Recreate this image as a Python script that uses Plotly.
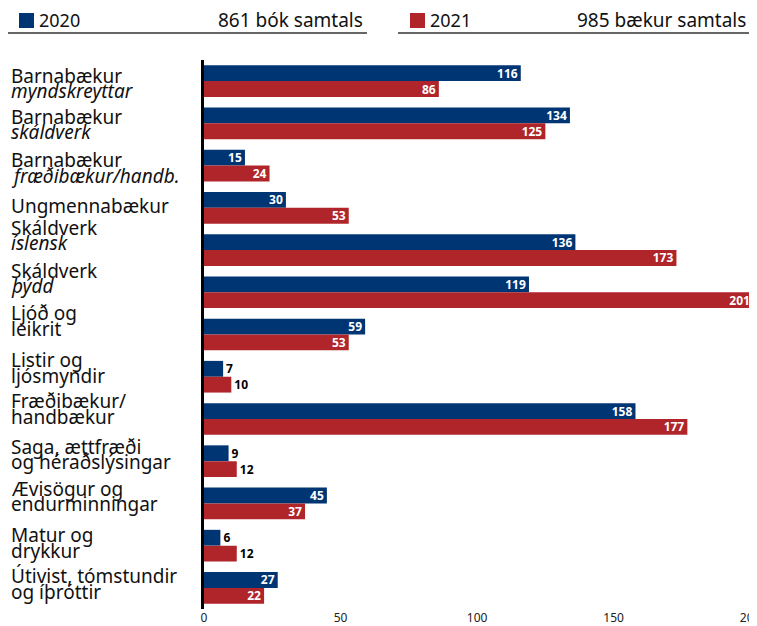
import plotly.graph_objects as go

cat_line1 = ["Barnabækur", "Barnabækur", "Barnabækur", "Ungmennabækur", "Skáldverk",
             "Skáldverk", "Ljóð og", "Listir og", "Fræðibækur/", "Saga, ættfræði",
             "Ævisögur og", "Matur og", "Útivist, tómstundir"]
cat_line2 = ["myndskreyttar", "skáldverk", "fræðibækur/handb.", "", "íslensk",
             "þýdd", "leikrit", "ljósmyndir", "handbækur", "og héraðslýsingar",
             "endurminningar", "drykkur", "og íþróttir"]
line2_italic = [True, True, True, False, True, True, False, False, False, False, False, False, False]
vals_2020 = [116, 134, 15, 30, 136, 119, 59, 7, 158, 9, 45, 6, 27]
vals_2021 = [86, 125, 24, 53, 173, 201, 53, 10, 177, 12, 37, 12, 22]
series_names = ["2020", "2021"]
totals_text = ["861 bók samtals", "985 bækur samtals"]
x_ticks = [0, 50, 100, 150, 200]

# layout: cap-top of each label's first line relative to its row centre (px)
label_top = [-13, -14, -13, -9, -30, -29, -29, -24, -25, -22, -22, -18, -19]

BLUE = "#003574"
RED = "#b0252a"
FONT = "Noto Sans"

OFF = 8                      # browser body margin
W, H = 757 - OFF, 626 - OFF
L, R, T, B = 204 - OFF, 0, 60 - OFF, 17
pw, ph = W - L - R, H - T - B


def px(x):                   # page pixel -> paper x
    return (x - OFF - L) / pw


def py(y):                   # page pixel -> paper y
    return (H - B - (y - OFF)) / ph


ids = list(range(len(cat_line1)))


def make_trace(vals, name, color):
    pos = ["inside" if v >= 15 else "outside" for v in vals]
    return go.Bar(
        y=ids, x=vals, name=name, orientation="h",
        marker=dict(color=color, line=dict(width=0)),
        text=[str(v) for v in vals], textposition=pos, textangle=0,
        insidetextanchor="end", constraintext="none",
        outsidetextfont=dict(family=FONT, size=12, color="black", weight="bold"),
        insidetextfont=dict(family=FONT, size=12, color="white", weight="bold"),
        cliponaxis=False, showlegend=False,
    )


fig = go.Figure()
fig.add_trace(make_trace(vals_2020, series_names[0], BLUE))
fig.add_trace(make_trace(vals_2021, series_names[1], RED))

LFS = 19
annotations = []
for i in ids:
    y1 = label_top[i] + 7.5          # centre of first line (px below row centre)
    annotations.append(dict(x=px(9), xref="paper", y=i, yref="y", yshift=-y1,
                            yanchor="middle", text=cat_line1[i], showarrow=False,
                            xanchor="left", align="left",
                            font=dict(family=FONT, size=LFS, color="#111")))
    if cat_line2[i]:
        t2 = f"<i>{cat_line2[i]}</i>" if line2_italic[i] else cat_line2[i]
        annotations.append(dict(x=px(9), xref="paper", y=i, yref="y", yshift=-(y1 + 15.5),
                                yanchor="middle", text=t2, showarrow=False,
                                xanchor="left", align="left",
                                font=dict(family=FONT, size=LFS, color="#111")))

# header legend
hdr = [(19, 37, 365, 7, 367), (410, 428, 748, 398, 757)]
shapes = []
for k, (sq, tx, tr, l0, l1) in enumerate(hdr):
    color = BLUE if k == 0 else RED
    shapes.append(dict(type="rect", xref="paper", yref="paper",
                       x0=px(sq), x1=px(sq + 15), y0=py(28), y1=py(13),
                       fillcolor=color, line=dict(width=0)))
    shapes.append(dict(type="line", xref="paper", yref="paper",
                       x0=px(l0), x1=px(l1), y0=py(33), y1=py(33),
                       line=dict(color="#333", width=1.5)))
    annotations.append(dict(x=px(tx), xref="paper", y=py(20.5), yref="paper",
                            text=series_names[k], showarrow=False, xanchor="left",
                            yanchor="middle",
                            font=dict(family=FONT, size=18, color="#111")))
    annotations.append(dict(x=px(tr), xref="paper", y=py(20.5), yref="paper",
                            text=totals_text[k], showarrow=False, xanchor="right",
                            yanchor="middle",
                            font=dict(family=FONT, size=19, color="#111")))

fig.update_layout(
    width=W, height=H,
    margin=dict(l=L, r=R, t=T, b=B, pad=0),
    paper_bgcolor="white", plot_bgcolor="white",
    barmode="group", bargap=0.25, bargroupgap=0,
    xaxis=dict(range=[0, 202.5], tickvals=x_ticks, showgrid=False, zeroline=False,
               showline=False, ticks="", automargin=False, ticklabeloverflow="allow",
               tickfont=dict(family=FONT, size=12, color="#222")),
    yaxis=dict(range=[len(ids) - 0.5, -0.5], showticklabels=False, showgrid=False,
               zeroline=False, showline=True, linecolor="black", linewidth=2.5,
               ticks="", automargin=False),
    annotations=annotations, shapes=shapes,
    font=dict(family=FONT),
)

fig.write_html("out.html")
